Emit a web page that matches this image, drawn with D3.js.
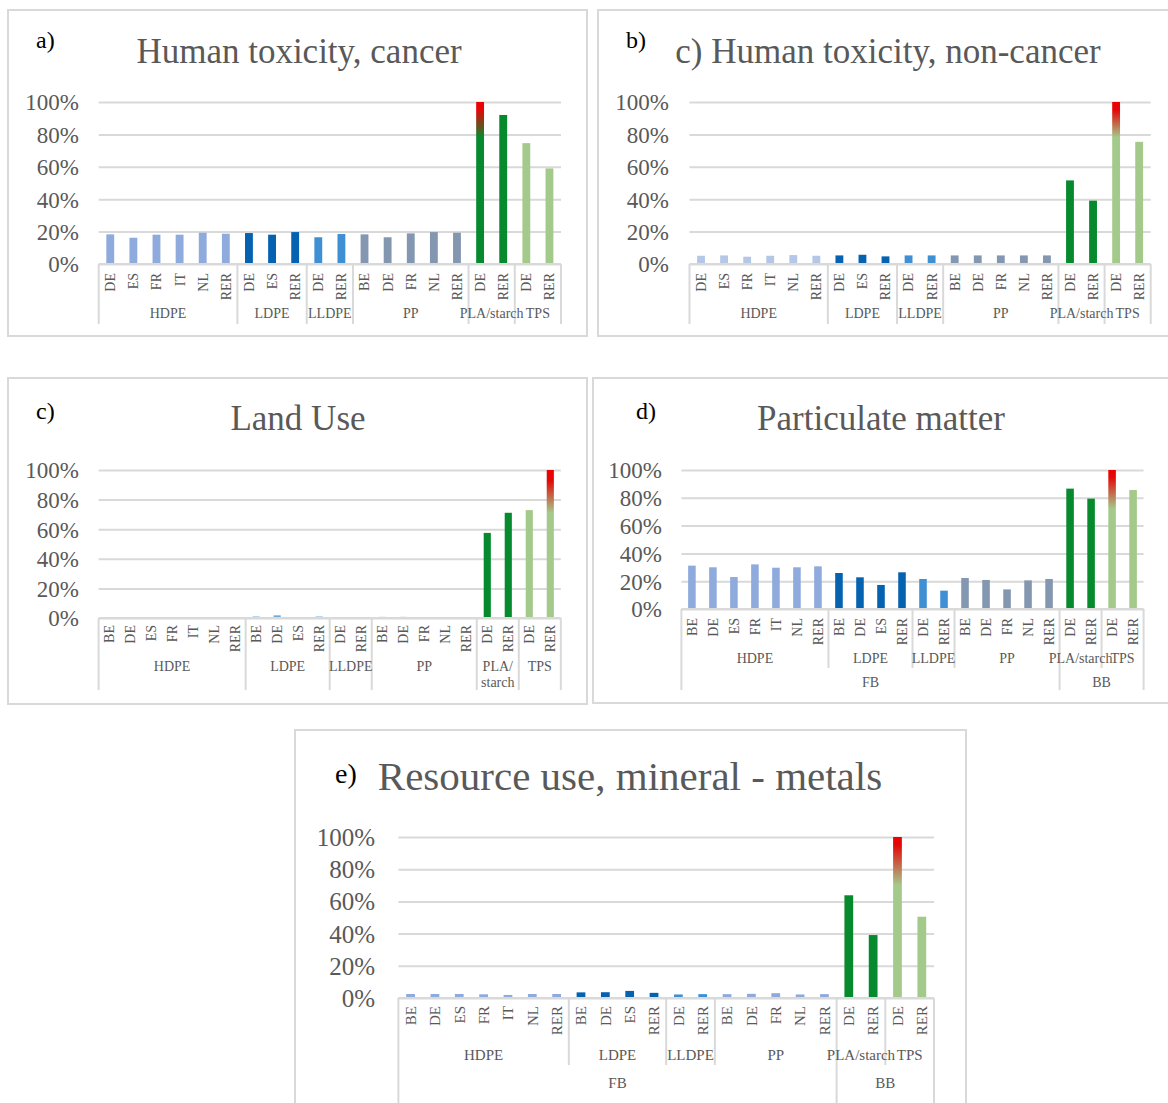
<!DOCTYPE html>
<html>
<head>
<meta charset="utf-8">
<script src="https://cdn.jsdelivr.net/npm/d3@7"></script>
<style>
  body { margin: 0; background: #fff; }
  svg { display: block; font-family: "Liberation Serif", "Times New Roman", serif; }
</style>
</head>
<body>
<div id="chart"></div>
<script>
// Category lists per polymer group
const groupNames = ['HDPE', 'LDPE', 'LLDPE', 'PP', 'PLA/starch', 'TPS'];
const hdpeShort = ['DE', 'ES', 'FR', 'IT', 'NL', 'RER'];
const hdpeFull = ['BE', 'DE', 'ES', 'FR', 'IT', 'NL', 'RER'];
const ldpeShort = ['DE', 'ES', 'RER'];
const ldpeFull = ['BE', 'DE', 'ES', 'RER'];
const lldpeCats = ['DE', 'RER'];
const ppCats = ['BE', 'DE', 'FR', 'NL', 'RER'];
const plaCats = ['DE', 'RER'];
const tpsCats = ['DE', 'RER'];
const outerGroups = [{ name: 'FB', from: 0, to: 3 }, { name: 'BB', from: 4, to: 5 }];
const yTicks = [0, 20, 40, 60, 80, 100];

// Values (% of max), in category order
const cancerValues = [18.3, 16.2, 18.1, 18.1, 19.3, 18.7, 19.1, 18.1, 19.7, 16.5, 18.5,
  18.3, 16.5, 18.9, 19.7, 19.3, 100, 92, 74.6, 59];
const nonCancerValues = [5.1, 5.3, 4.5, 5.1, 5.5, 5.1, 5.3, 5.7, 4.7, 5.3, 5.3,
  5.3, 5.3, 5.3, 5.3, 5.3, 51.6, 39.1, 100, 75.4];
const landUseValues = [0, 0, 0, 0, 0, 0, 0, 1.0, 1.8, 0, 1.0, 0, 0,
  0.8, 0.8, 0, 0, 0, 57.5, 71.1, 72.9, 100];
const pmValues = [31.2, 30.0, 23.0, 32.1, 29.7, 30.0, 30.7, 25.9, 22.8, 17.3, 26.4,
  21.6, 13.2, 22.3, 20.9, 14.1, 20.6, 21.6, 86.6, 79.4, 100, 85.6];
const metalsValues = [2.5, 2.5, 2.5, 2.3, 1.9, 2.5, 2.5, 3.5, 3.6, 4.4, 3.2,
  2.2, 2.4, 2.4, 2.6, 3.0, 2.2, 2.4, 63.8, 39.1, 100, 50.5];

// Group colours
const baseColors = ['#8faadc', '#0562b0', '#3f8fd4', '#8497b0', '#078a2e', '#a4ca8b'];

const svg = d3.select('#chart').append('svg')
  .attr('width', 1168)
  .attr('height', 1103);

const defs = svg.append('defs');

function drawPanel(p) {
  const groups = p.groupCats.map((cats, i) => ({ name: groupNames[i], cats: cats }));
  const cats = [];
  groups.forEach((g, gi) => g.cats.forEach(c => cats.push({ label: c, group: gi, key: gi + '-' + c })));
  cats.forEach((c, i) => c.value = p.values[i]);

  // Panel frame
  svg.append('rect')
    .attr('x', p.box[0]).attr('y', p.box[1])
    .attr('width', p.box[2]).attr('height', p.box[3])
    .attr('fill', '#fff')
    .attr('stroke', '#d9d9d9')
    .attr('stroke-width', 2);

  const x = d3.scaleBand().domain(cats.map(c => c.key)).range([p.left, p.right]);
  const y = d3.scaleLinear().domain([0, 100]).range([p.zeroY, p.topY]);

  // Gridlines + tick labels
  const yAxis = svg.append('g')
    .attr('transform', `translate(${p.left},0)`)
    .call(d3.axisLeft(y).tickValues(yTicks).tickSize(-(p.right - p.left)).tickFormat(d => d + '%'));
  yAxis.select('.domain').remove();
  yAxis.selectAll('line').attr('stroke', '#d9d9d9').attr('stroke-width', 2);
  yAxis.selectAll('text')
    .attr('x', p.labelRight - p.left)
    .attr('dy', '0.34em')
    .attr('fill', '#595959')
    .style('font-size', p.tickFont + 'px')
    .style('font-family', '"Liberation Serif", "Times New Roman", serif');

  // Bars
  const barW = x.bandwidth() * p.barFrac;
  const maxVal = d3.max(cats, c => c.value);
  cats.forEach((c, i) => {
    let fill = (p.colors && p.colors[c.group]) || baseColors[c.group];
    if (c.value === maxVal) {
      const id = 'grad-' + p.id;
      const grad = defs.append('linearGradient')
        .attr('id', id).attr('x1', 0).attr('y1', 0).attr('x2', 0).attr('y2', 1);
      grad.append('stop').attr('offset', 0).attr('stop-color', '#ee0000');
      grad.append('stop').attr('offset', p.redEnd).attr('stop-color', '#e30808');
      grad.append('stop').attr('offset', p.greenStart).attr('stop-color', fill);
      grad.append('stop').attr('offset', 1).attr('stop-color', fill);
      fill = `url(#${id})`;
    }
    svg.append('rect')
      .attr('x', x(c.key) + (x.bandwidth() - barW) / 2)
      .attr('y', y(c.value))
      .attr('width', barW)
      .attr('height', y(0) - y(c.value))
      .attr('fill', fill);
  });

  // Category axis line
  svg.append('line')
    .attr('x1', p.left).attr('x2', p.right)
    .attr('y1', y(0)).attr('y2', y(0))
    .attr('stroke', '#d9d9d9').attr('stroke-width', 2);

  // Rotated category labels
  cats.forEach(c => {
    const cx = x(c.key) + x.bandwidth() / 2;
    svg.append('text')
      .attr('transform', `translate(${cx + p.catFont * 0.35},${p.zeroY + p.catGap}) rotate(-90)`)
      .attr('text-anchor', 'end')
      .attr('fill', '#595959')
      .style('font-size', p.catFont + 'px')
      .text(c.label);
  });

  // Group separators and labels
  let start = 0;
  const starts = [];
  groups.forEach((g, gi) => {
    starts.push(start);
    start += g.cats.length;
  });
  const edgeX = i => i >= cats.length ? p.right : x(cats[i].key);
  const outerIdx = p.outer ? [0, starts[4], cats.length] : [];
  starts.concat([cats.length]).forEach(si => {
    const bottom = outerIdx.includes(si) ? p.outerBottom : p.innerBottom;
    svg.append('line')
      .attr('x1', edgeX(si)).attr('x2', edgeX(si))
      .attr('y1', y(0)).attr('y2', bottom)
      .attr('stroke', '#d9d9d9').attr('stroke-width', 2);
  });
  groups.forEach((g, gi) => {
    const cx = (edgeX(starts[gi]) + edgeX(starts[gi] + g.cats.length)) / 2;
    const lines = (p.splitLabels && p.splitLabels[g.name]) || [g.name];
    lines.forEach((ln, li) => {
      svg.append('text')
        .attr('x', cx)
        .attr('y', p.groupY + li * p.catFont * 1.15)
        .attr('text-anchor', 'middle')
        .attr('fill', '#595959')
        .style('font-size', p.catFont + 'px')
        .text(ln);
    });
  });
  if (p.outer) {
    outerGroups.forEach(o => {
      const x0 = edgeX(starts[o.from]);
      const x1 = edgeX(starts[o.to] + groups[o.to].cats.length);
      svg.append('text')
        .attr('x', (x0 + x1) / 2)
        .attr('y', p.outerY)
        .attr('text-anchor', 'middle')
        .attr('fill', '#595959')
        .style('font-size', p.catFont + 'px')
        .text(o.name);
    });
  }

  // Title and panel letter
  svg.append('text')
    .attr('x', p.titleX).attr('y', p.titleY)
    .attr('text-anchor', 'middle')
    .attr('fill', '#595959')
    .style('font-size', p.titleFont + 'px')
    .text(p.title);
  svg.append('text')
    .attr('x', p.letterX).attr('y', p.letterY)
    .attr('fill', '#000')
    .style('font-size', p.letterFont + 'px')
    .text(p.letter);
}

drawPanel({
  id: 'a', letter: 'a)', title: 'Human toxicity, cancer', values: cancerValues,
  groupCats: [hdpeShort, ldpeShort, lldpeCats, ppCats, plaCats, tpsCats],
  box: [8, 10, 579, 326], left: 98.7, right: 561, zeroY: 264, topY: 102, labelRight: 79,
  tickFont: 23, catFont: 14, catGap: 9, groupY: 318, innerBottom: 324, barFrac: 0.34,
  titleX: 299, titleY: 63, titleFont: 35, letterX: 36, letterY: 48, letterFont: 24,
  redEnd: 0.05, greenStart: 0.22
});

drawPanel({
  id: 'b', letter: 'b)', title: 'c) Human toxicity, non-cancer', values: nonCancerValues,
  groupCats: [hdpeShort, ldpeShort, lldpeCats, ppCats, plaCats, tpsCats],
  colors: ['#b4c7e7'],
  box: [598, 10, 580, 326], left: 689.5, right: 1150.7, zeroY: 264, topY: 102, labelRight: 669,
  tickFont: 23, catFont: 14, catGap: 9, groupY: 318, innerBottom: 324, barFrac: 0.34,
  titleX: 888, titleY: 63, titleFont: 35, letterX: 626, letterY: 48, letterFont: 24,
  redEnd: 0.05, greenStart: 0.22
});

drawPanel({
  id: 'c', letter: 'c)', title: 'Land Use', values: landUseValues,
  groupCats: [hdpeFull, ldpeFull, lldpeCats, ppCats, plaCats, tpsCats],
  colors: [null, '#6fa8dc', null, '#9dc3e6'],
  splitLabels: { 'PLA/starch': ['PLA/', 'starch'] },
  box: [8, 378, 579, 326], left: 98.6, right: 560.8, zeroY: 618, topY: 470, labelRight: 79,
  tickFont: 23, catFont: 14, catGap: 7, groupY: 671, innerBottom: 690, barFrac: 0.34,
  titleX: 298, titleY: 430, titleFont: 35, letterX: 36, letterY: 419, letterFont: 24,
  redEnd: 0.07, greenStart: 0.29
});

drawPanel({
  id: 'd', letter: 'd)', title: 'Particulate matter', values: pmValues,
  groupCats: [hdpeFull, ldpeFull, lldpeCats, ppCats, plaCats, tpsCats],
  outer: true,
  box: [593, 378, 585, 325], left: 681.4, right: 1143.6, zeroY: 609, topY: 470, labelRight: 662,
  tickFont: 23, catFont: 14, catGap: 9, groupY: 663, innerBottom: 668, outerY: 687, outerBottom: 690,
  barFrac: 0.36,
  titleX: 881, titleY: 430, titleFont: 35, letterX: 636, letterY: 419, letterFont: 24,
  redEnd: 0.05, greenStart: 0.28
});

drawPanel({
  id: 'e', letter: 'e)', title: 'Resource use, mineral - metals', values: metalsValues,
  groupCats: [hdpeFull, ldpeFull, lldpeCats, ppCats, plaCats, tpsCats],
  colors: [null, null, null, '#8eaadb'],
  outer: true,
  box: [295, 730, 671, 400], left: 398.4, right: 934, zeroY: 998, topY: 837, labelRight: 375,
  tickFont: 25, catFont: 15, catGap: 8, groupY: 1060, innerBottom: 1065, outerY: 1088, outerBottom: 1103,
  barFrac: 0.36,
  titleX: 630, titleY: 790, titleFont: 41, letterX: 335, letterY: 783, letterFont: 28,
  redEnd: 0.05, greenStart: 0.3
});
</script>
</body>
</html>
